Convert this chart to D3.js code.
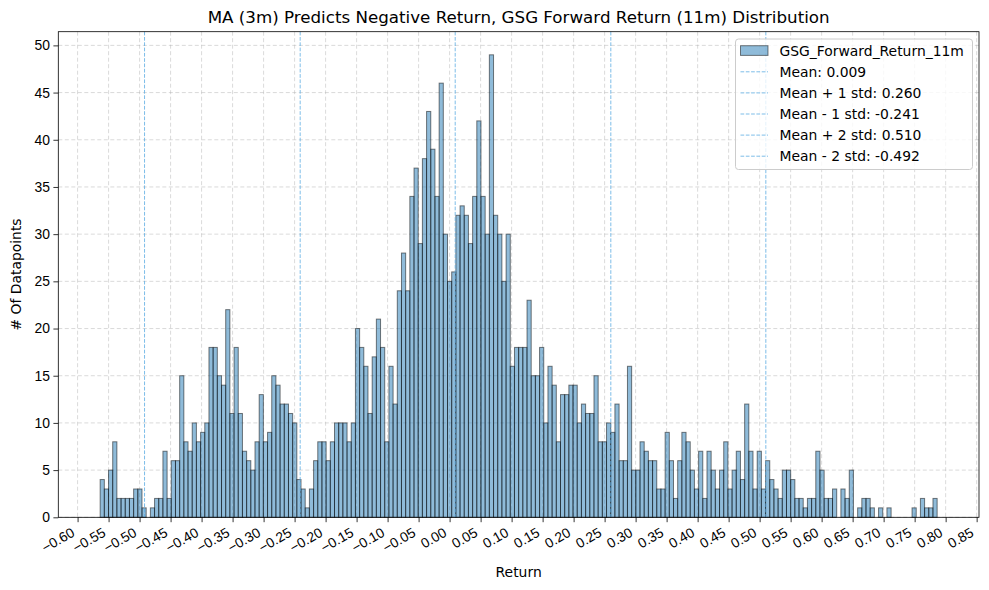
<!DOCTYPE html>
<html>
<head>
<meta charset="utf-8">
<script src="https://cdn.jsdelivr.net/npm/d3@7/dist/d3.min.js"></script>
<style>
  html, body { margin: 0; padding: 0; background: #fff; }
  svg { display: block; font-family: "DejaVu Sans", sans-serif; }
</style>
</head>
<body>
<svg id="chart" width="989" height="590"></svg>
<script>
// ---- data ----
const seriesName = "GSG_Forward_Return_11m";
const histMin = -0.5636;
const histMax = 0.7863;
const counts = [
  4, 3, 5, 8, 2, 2, 2, 2, 3, 3,
  1, 0, 1, 2, 2, 7, 2, 6, 6, 15,
  8, 7, 10, 8, 9, 10, 18, 18, 15, 14,
  22, 11, 18, 11, 7, 6, 5, 8, 13, 8,
  9, 15, 14, 12, 12, 11, 10, 4, 3, 1,
  3, 6, 8, 8, 6, 8, 10, 10, 10, 8,
  10, 20, 18, 16, 11, 17, 21, 18, 8, 16,
  12, 24, 28, 24, 34, 37, 29, 38, 43, 39,
  34, 46, 30, 25, 26, 32, 33, 32, 29, 34,
  42, 34, 30, 49, 32, 30, 25, 30, 16, 18,
  18, 18, 23, 15, 15, 18, 10, 16, 14, 8,
  13, 13, 14, 14, 10, 12, 11, 11, 15, 8,
  8, 10, 9, 12, 6, 6, 16, 5, 5, 8,
  7, 6, 6, 3, 3, 9, 6, 2, 6, 9,
  8, 5, 3, 7, 2, 7, 5, 3, 5, 8,
  3, 5, 7, 4, 12, 7, 3, 7, 3, 6,
  4, 3, 2, 5, 5, 4, 2, 2, 1, 2,
  2, 7, 5, 2, 2, 3, 0, 3, 2, 5,
  0, 1, 2, 2, 1, 0, 1, 0, 1, 0,
  0, 0, 0, 0, 1, 0, 2, 1, 1, 2
];
const statLabels = ["Mean: 0.009", "Mean + 1 std: 0.260", "Mean - 1 std: -0.241", "Mean + 2 std: 0.510", "Mean - 2 std: -0.492"];
const statValues = [0.009, 0.260, -0.241, 0.510, -0.492];
const xTicks = [-0.60, -0.55, -0.50, -0.45, -0.40, -0.35, -0.30, -0.25, -0.20, -0.15, -0.10, -0.05, 0.00, 0.05, 0.10, 0.15, 0.20, 0.25, 0.30, 0.35, 0.40, 0.45, 0.50, 0.55, 0.60, 0.65, 0.70, 0.75, 0.80, 0.85];
const yTicks = [0, 5, 10, 15, 20, 25, 30, 35, 40, 45, 50];
const titleText = "MA (3m) Predicts Negative Return, GSG Forward Return (11m) Distribution";
const xLabel = "Return";
const yLabel = "# Of Datapoints";

// ---- layout ----
const W = 989, H = 590;
const m = { left: 58.3, right: 10, top: 31.7, bottom: 72.7 };
const svg = d3.select("#chart");

// bins (equal width between histMin and histMax, like the histogram routine)
const nb = counts.length;
const bw = (histMax - histMin) / nb;
const bins = counts.map((c, i) => ({ x0: histMin + i * bw, x1: histMin + (i + 1) * bw, c }));

const span = histMax - histMin;
const x = d3.scaleLinear()
  .domain([histMin - 0.05 * span, histMax + 0.05 * span])
  .range([m.left, W - m.right]);
const yMax = d3.max(counts) * 1.05;
const y = d3.scaleLinear().domain([0, yMax]).range([H - m.bottom, m.top]);

const fmt = v => (v < 0 ? "\u2212" : "") + Math.abs(v).toFixed(2);

// grid
const grid = svg.append("g");
grid.selectAll("line.gx").data(xTicks).join("line")
  .attr("x1", d => x(d)).attr("x2", d => x(d))
  .attr("y1", m.top).attr("y2", H - m.bottom)
  .attr("stroke", "#b0b0b0").attr("stroke-opacity", 0.6)
  .attr("stroke-width", 0.8).attr("stroke-dasharray", "4,2.5");
grid.selectAll("line.gy").data(yTicks).join("line")
  .attr("x1", m.left).attr("x2", W - m.right)
  .attr("y1", d => y(d)).attr("y2", d => y(d))
  .attr("stroke", "#b0b0b0").attr("stroke-opacity", 0.6)
  .attr("stroke-width", 0.8).attr("stroke-dasharray", "4,2.5");

// bars
svg.append("g").selectAll("rect").data(bins.filter(b => b.c > 0)).join("rect")
  .attr("x", d => x(d.x0))
  .attr("width", d => x(d.x1) - x(d.x0))
  .attr("y", d => y(d.c))
  .attr("height", d => y(0) - y(d.c))
  .attr("fill", "#1f77b4").attr("fill-opacity", 0.5)
  .attr("stroke", "#000").attr("stroke-opacity", 0.5).attr("stroke-width", 1);

// stat lines
svg.append("g").selectAll("line").data(statValues).join("line")
  .attr("x1", d => x(d)).attr("x2", d => x(d))
  .attr("y1", m.top).attr("y2", H - m.bottom)
  .attr("stroke", "#5dade2").attr("stroke-opacity", 0.8)
  .attr("stroke-width", 1).attr("stroke-dasharray", "3.7,1.6");

// axes
const xAxis = d3.axisBottom(x).tickValues(xTicks).tickFormat(fmt).tickSize(4.9).tickPadding(3);
const gx = svg.append("g").attr("transform", `translate(0,${H - m.bottom})`).call(xAxis);
gx.select(".domain").remove();
gx.selectAll(".tick line").attr("stroke", "#000").attr("stroke-width", 0.8);
gx.selectAll(".tick text")
  .attr("font-size", 13.9).attr("fill", "#000")
  .attr("text-anchor", "end")
  .attr("dy", null).attr("y", 0)
  .attr("transform", "translate(-2.5,18) rotate(-30)");

const yAxis = d3.axisLeft(y).tickValues(yTicks).tickFormat(d3.format("d")).tickSize(4.9).tickPadding(3.5);
const gy = svg.append("g").attr("transform", `translate(${m.left},0)`).call(yAxis);
gy.select(".domain").remove();
gy.selectAll(".tick line").attr("stroke", "#000").attr("stroke-width", 0.8);
gy.selectAll(".tick text").attr("font-size", 13.9).attr("fill", "#000");

// frame
svg.append("rect")
  .attr("x", m.left).attr("y", m.top)
  .attr("width", W - m.right - m.left).attr("height", H - m.bottom - m.top)
  .attr("fill", "none").attr("stroke", "#000").attr("stroke-width", 0.8);

// title & labels
svg.append("text").attr("x", (m.left + W - m.right) / 2).attr("y", 23)
  .attr("text-anchor", "middle").attr("font-size", 16.7).attr("fill", "#000").text(titleText);
svg.append("text").attr("x", (m.left + W - m.right) / 2).attr("y", 577)
  .attr("text-anchor", "middle").attr("font-size", 13.9).attr("fill", "#000").text(xLabel);
svg.append("text")
  .attr("transform", `translate(21,${(m.top + H - m.bottom) / 2}) rotate(-90)`)
  .attr("text-anchor", "middle").attr("font-size", 13.9).attr("fill", "#000").text(yLabel);

// legend
const lg = svg.append("g");
lg.append("rect").attr("x", 735.5).attr("y", 39).attr("width", 237).attr("height", 130.5)
  .attr("rx", 3).attr("fill", "#fff").attr("fill-opacity", 0.8)
  .attr("stroke", "#cccccc").attr("stroke-width", 1);
const rowY = i => 50.7 + i * 21.1;
lg.append("rect").attr("x", 740.5).attr("y", rowY(0) - 5).attr("width", 27.5).attr("height", 9.7)
  .attr("fill", "#1f77b4").attr("fill-opacity", 0.5)
  .attr("stroke", "#000").attr("stroke-opacity", 0.5);
lg.append("text").attr("x", 779.5).attr("y", rowY(0)).attr("dy", "0.35em")
  .attr("font-size", 13.9).attr("fill", "#000").text(seriesName);
statLabels.forEach((t, i) => {
  lg.append("line").attr("x1", 740.5).attr("x2", 768).attr("y1", rowY(i + 1)).attr("y2", rowY(i + 1))
    .attr("stroke", "#5dade2").attr("stroke-opacity", 0.8)
    .attr("stroke-width", 1).attr("stroke-dasharray", "3.7,1.6");
  lg.append("text").attr("x", 779.5).attr("y", rowY(i + 1)).attr("dy", "0.35em")
    .attr("font-size", 13.9).attr("fill", "#000").text(t);
});
</script>
</body>
</html>
